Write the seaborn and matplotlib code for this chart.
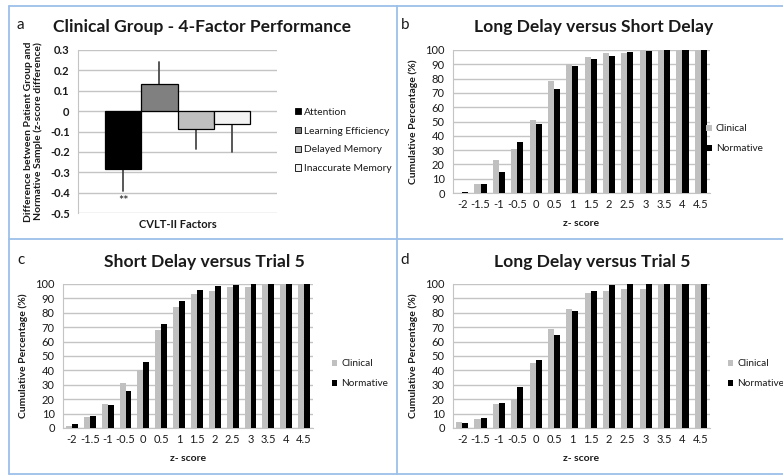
import numpy as np
import pandas as pd
import matplotlib
matplotlib.use("Agg")
import matplotlib.pyplot as plt
from matplotlib.lines import Line2D
from matplotlib.patches import Patch
import seaborn as sns

# ---------------- data ----------------
factors = ["Attention", "Learning Efficiency", "Delayed Memory", "Inaccurate Memory"]
factor_diff = [-0.283, 0.133, -0.088, -0.062]
factor_err = [0.107, 0.107, 0.100, 0.138]
factor_colors = ["#000000", "#808080", "#BFBFBF", "#F2F2F2"]

z_labels = ["-2", "-1.5", "-1", "-0.5", "0", "0.5", "1", "1.5", "2", "2.5",
            "3", "3.5", "4", "4.5"]

b_clinical = [0, 6, 23, 31, 51, 78, 90, 95, 98, 98, 100, 100, 100, 100]
b_normative = [1, 6, 14.5, 36, 48, 73, 88.5, 94, 96, 98.5, 99.5, 100, 100, 100]

c_clinical = [1.5, 7.5, 17, 31, 40, 68, 84, 93, 95, 98, 98, 100, 100, 100]
c_normative = [3, 8.5, 16, 26, 46, 72, 88.5, 96, 98.5, 99.5, 100, 100, 100, 100]

d_clinical = [4.5, 6, 17, 20, 45, 68.5, 82.5, 93.5, 95, 96.5, 96.5, 100, 100, 100]
d_normative = [3.5, 7, 17.5, 28.5, 47, 64.5, 81, 95, 99, 100, 100, 100, 100, 100]

groups = ["Clinical", "Normative"]
group_colors = ["#C0C0C0", "#000000"]

titles = {
    "a": "Clinical Group - 4-Factor Performance",
    "b": "Long Delay versus Short Delay",
    "c": "Short Delay versus Trial 5",
    "d": "Long Delay versus Trial 5",
}

# ---------------- style ----------------
sns.set_style("white")
plt.rcParams["font.family"] = ["Lato", "DejaVu Sans"]
GRID = "#C4C4C4"
TXT = "#1a1a1a"

W, H = 783, 475
fig = plt.figure(figsize=(W / 100, H / 100), dpi=100)


def px_axes(x0, x1, ytop, ybot):
    return fig.add_axes([x0 / W, (H - ybot) / H, (x1 - x0) / W, (ybot - ytop) / H])


# ---------------- panel a ----------------
axa = px_axes(78, 277, 50, 213)
dfa = pd.DataFrame({"group": ["CVLT-II Factors"] * 4, "factor": factors, "diff": factor_diff})
sns.barplot(data=dfa, x="group", y="diff", hue="factor", hue_order=factors,
            palette=factor_colors, width=0.724, edgecolor="#000000", linewidth=0.9,
            legend=False, ax=axa, errorbar=None, zorder=3)
# one-sided error bars from the data
bars = [p for p in axa.patches][:4]
for p, v, e in zip(bars, factor_diff, factor_err):
    cx = p.get_x() + p.get_width() / 2
    end = v + e if v > 0 else v - e
    axa.plot([cx, cx], [v, end], color="#4a4a4a", lw=1.3, zorder=2)
att = bars[0]
axa.text(att.get_x() + att.get_width() / 2, factor_diff[0] - factor_err[0] - 0.05, "**",
         ha="center", va="center", fontsize=9, color=TXT)
axa.set_ylim(-0.5, 0.3)
axa.set_xlim(-0.5, 0.5)
axa.set_yticks(np.round(np.arange(-0.5, 0.31, 0.1), 1))
axa.set_yticklabels(["-0.5", "-0.4", "-0.3", "-0.2", "-0.1", "0", "0.1", "0.2", "0.3"],
                    fontsize=8, fontweight="bold", color=TXT)
axa.set_xticks([])
axa.set_xlabel("CVLT-II Factors", fontsize=8, fontweight="bold", color=TXT, labelpad=4)
axa.set_ylabel("Difference between Patient Group and\nNormative Sample (z-score difference)",
               fontsize=7.5, fontweight="bold", color=TXT, labelpad=5, linespacing=1.1)
axa.yaxis.grid(True, color=GRID, lw=1)
axa.set_axisbelow(True)
for s in ["top", "right", "bottom"]:
    axa.spines[s].set_visible(False)
axa.spines["left"].set_color(GRID)
axa.tick_params(axis="y", length=3, color=GRID, pad=3)
handles = [Patch(facecolor=c, edgecolor="#000000", linewidth=0.6) for c in factor_colors]
axa.legend(handles, factors, loc="center left", bbox_to_anchor=(1.07, 0.445), frameon=False,
           fontsize=7.4, handlelength=0.55, handleheight=0.55, handletextpad=0.35,
           labelspacing=0.95, labelcolor=TXT, borderaxespad=0)


# ---------------- cumulative panels ----------------
def cum_panel(ax, clinical, normative, leg_anchor):
    df = pd.DataFrame({
        "z": z_labels * 2,
        "pct": list(clinical) + list(normative),
        "grp": ["Clinical"] * len(z_labels) + ["Normative"] * len(z_labels),
    })
    sns.barplot(data=df, x="z", y="pct", hue="grp", hue_order=groups, order=z_labels,
                palette=group_colors, width=0.66, linewidth=0, errorbar=None,
                legend=False, ax=ax, zorder=3)
    ax.set_ylim(0, 100)
    ax.set_xlim(-0.5, len(z_labels) - 0.5)
    ax.set_yticks(range(0, 101, 10))
    ax.set_yticklabels([str(v) for v in range(0, 101, 10)], fontsize=8, color=TXT)
    ax.tick_params(axis="x", labelsize=8, labelcolor=TXT, length=0, pad=4)
    ax.set_xticks(range(len(z_labels)))
    ax.set_xticks(np.arange(-0.5, len(z_labels), 1.0), minor=True)
    ax.tick_params(axis="x", which="minor", length=4, color=GRID)
    ax.tick_params(axis="y", length=3, color=GRID, pad=3)
    ax.yaxis.grid(True, color=GRID, lw=1)
    ax.set_axisbelow(True)
    for s in ["top", "right"]:
        ax.spines[s].set_visible(False)
    ax.spines["left"].set_color(GRID)
    ax.spines["bottom"].set_color(GRID)
    ax.set_xlabel("z- score", fontsize=7.5, fontweight="bold", color=TXT, labelpad=7)
    ax.set_ylabel("Cumulative Percentage (%)", fontsize=7.5, fontweight="bold", color=TXT,
                  labelpad=5)
    h = [Patch(facecolor=c, edgecolor="none") for c in group_colors]
    ax.legend(h, groups, loc="center left", bbox_to_anchor=leg_anchor, frameon=False,
              fontsize=7.2, handlelength=0.55, handleheight=0.55, handletextpad=0.4,
              labelspacing=1.1, labelcolor=TXT, borderaxespad=0, borderpad=0)


axb = px_axes(453, 710, 50, 193)
cum_panel(axb, b_clinical, b_normative, (0.985, 0.38))
axc = px_axes(63, 313, 284, 428)
cum_panel(axc, c_clinical, c_normative, (1.075, 0.375))
axd = px_axes(453, 710, 284, 428)
cum_panel(axd, d_clinical, d_normative, (1.07, 0.375))

# ---------------- titles & panel letters ----------------
def ftext(x, y, s, **kw):
    fig.text(x / W, 1 - y / H, s, **kw)


ftext(202, 27, titles["a"], fontsize=12.6, fontweight="bold", ha="center", va="center", color=TXT)
ftext(594, 27, titles["b"], fontsize=12.6, fontweight="bold", ha="center", va="center", color=TXT)
ftext(204, 262, titles["c"], fontsize=12.6, fontweight="bold", ha="center", va="center", color=TXT)
ftext(592, 262, titles["d"], fontsize=12.6, fontweight="bold", ha="center", va="center", color=TXT)
for lab, (x, y) in {"a": (20, 25), "b": (405, 25), "c": (21, 260), "d": (405, 260)}.items():
    ftext(x, y, lab, fontsize=11, ha="center", va="center", color=TXT)

# ---------------- panel borders ----------------
BORDER = "#9DBFE8"
for (x0, y0, x1, y1) in [(9, 6, W, 6), (9, 6, 9, 474), (397, 6, 397, 474),
                         (9, 239, W, 239), (9, 474, W, 474)]:
    fig.add_artist(Line2D([x0 / W, x1 / W], [1 - y0 / H, 1 - y1 / H],
                          color=BORDER, lw=1.3, transform=fig.transFigure))

fig.savefig("out.png", dpi=100, facecolor="white")
